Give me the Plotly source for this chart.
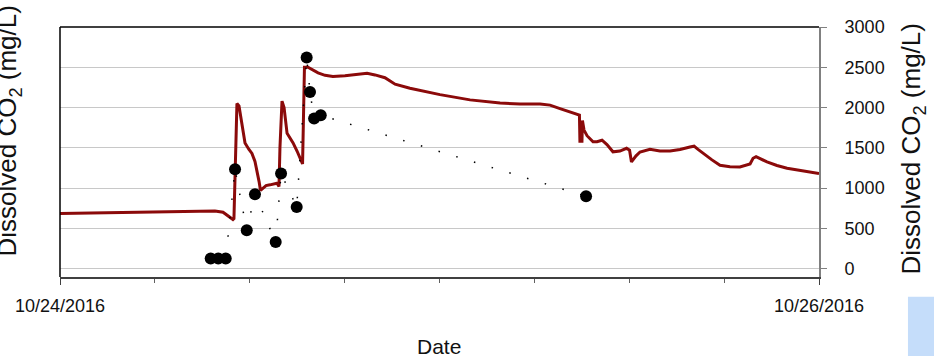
import pandas as pd
import plotly.graph_objects as go

# Start of the record (x axis origin) and elapsed time in hours
start = pd.Timestamp("2016-10-24 00:00")

# Continuous probe record: elapsed hours and dissolved CO2 (mg/L)
probe_hours = [0.0, 3.79, 7.59, 8.85, 9.80, 10.31, 10.62, 10.94, 11.00, 11.10, 11.19, 11.32,
               11.51, 11.70, 11.95, 12.14, 12.33, 12.46, 12.59, 12.68, 12.84, 13.03, 13.28,
               13.53, 13.72, 13.85, 13.91, 14.04, 14.17, 14.36, 14.55, 14.74, 14.99, 15.18,
               15.34, 15.40, 15.46, 15.68, 16.00, 16.32, 16.76, 17.26, 18.02, 18.97, 19.42,
               19.92, 20.55, 21.19, 22.13, 24.03, 25.93, 27.83, 29.09, 30.36, 30.99, 31.62,
               32.25, 32.85, 32.88, 33.01, 33.04, 33.14, 33.33, 33.71, 33.96, 34.28, 34.59,
               34.97, 35.41, 35.83, 36.02, 36.14, 36.43, 36.68, 37.31, 37.63, 37.94, 38.58,
               39.21, 39.84, 40.10, 40.35, 40.66, 41.23, 41.74, 42.37, 43.00, 43.64, 43.83,
               44.02, 44.71, 45.34, 45.98, 46.80, 48.00]
probe_co2 = [683, 695, 703, 715, 715, 700, 660, 610, 620, 1500, 2050, 2020,
             1800, 1560, 1480, 1430, 1330, 1220, 1080, 970, 1000, 1030, 1040,
             1050, 1060, 1020, 1500, 2080, 2000, 1680, 1620, 1560, 1460, 1380,
             1300, 1900, 2500, 2500, 2470, 2430, 2400, 2385, 2395, 2410, 2425,
             2405, 2370, 2290, 2240, 2160, 2095, 2055, 2045, 2045, 2030, 1987,
             1945, 1905, 1580, 1580, 1840, 1720, 1650, 1575, 1575, 1594, 1540,
             1450, 1460, 1494, 1470, 1324, 1400, 1448, 1482, 1470, 1461, 1461,
             1480, 1510, 1520, 1480, 1432, 1350, 1283, 1265, 1262, 1300, 1370,
             1390, 1324, 1280, 1246, 1220, 1180]

# Discrete samples: elapsed hours and dissolved CO2 (mg/L)
sample_hours = [9.53, 10.01, 10.48, 11.07, 11.81, 12.33, 13.64, 13.98, 14.97,
                15.60, 15.81, 16.07, 16.49, 33.27]
sample_co2 = [124, 124, 124, 1233, 476, 923, 331, 1180, 765,
              2620, 2193, 1863, 1904, 898]

# Axis labels
x_tick_labels = ["10/24/2016", "10/26/2016"]
y_tick_values = [0, 500, 1000, 1500, 2000, 2500, 3000]

FONT = "Liberation Sans, Arial, sans-serif"

probe_time = start + pd.to_timedelta(probe_hours, unit="h")
sample_time = start + pd.to_timedelta(sample_hours, unit="h")
end = start + pd.Timedelta(hours=48)

fig = go.Figure()
fig.add_trace(go.Scatter(
    x=probe_time, y=probe_co2, mode="lines",
    line=dict(color="#8B0A0A", width=3),
    name="Probe",
))
fig.add_trace(go.Scatter(
    x=sample_time, y=sample_co2, mode="lines+markers",
    line=dict(color="black", width=1.5, dash="1.5px,17px"),
    marker=dict(color="black", size=12),
    name="Samples",
))

fig.update_layout(
    width=934, height=356,
    margin=dict(l=60, r=115, t=27, b=79),
    paper_bgcolor="white", plot_bgcolor="white",
    showlegend=False,
    font=dict(family=FONT, color="#111111"),
    xaxis=dict(
        type="date",
        range=[start, end],
        tickmode="array",
        tickvals=[start, end],
        ticktext=x_tick_labels,
        ticks="outside", ticklen=6, tickcolor="#404040", tickwidth=1,
        tickfont=dict(size=18, family=FONT, color="#111111"),
        ticklabelstandoff=5,
        showgrid=False, zeroline=False,
        showline=True, linecolor="#404040", linewidth=2,
        minor=dict(dtick=6 * 3600 * 1000, ticks="outside", ticklen=4,
                   tickcolor="#606060", showgrid=False),
    ),
    yaxis=dict(
        side="right",
        range=[-104.4, 3000],
        tickmode="array",
        tickvals=y_tick_values,
        ticks="outside", ticklen=6, tickcolor="#808080",
        tickfont=dict(size=18, family=FONT, color="#111111"),
        ticklabelstandoff=14,
        showgrid=True, gridcolor="#c8c8c8", gridwidth=1,
        zeroline=False,
        showline=True, linecolor="#808080", linewidth=2,
    ),
)

# Left and top frame lines
fig.add_shape(type="line", xref="paper", yref="paper", x0=0, x1=0, y0=0, y1=1,
              line=dict(color="black", width=1.5))
fig.add_shape(type="line", xref="paper", yref="paper", x0=0, x1=1, y0=1, y1=1,
              line=dict(color="black", width=1.5))

# Pale blue box at the lower right corner
fig.add_shape(type="rect", xref="paper", yref="paper",
              x0=1.1172, x1=1.16, y0=-0.32, y1=-0.079,
              fillcolor="#c5ddfa", line=dict(width=0))

# Axis titles
title_text = "Dissolved CO<sub>2</sub> (mg/L)"
fig.add_annotation(text=title_text, xref="paper", yref="paper",
                   x=-0.0672, y=0.586, textangle=-90, showarrow=False,
                   xanchor="center", yanchor="middle",
                   font=dict(size=26, family=FONT, color="#111111"))
fig.add_annotation(text=title_text, xref="paper", yref="paper",
                   x=1.1238, y=0.514, textangle=-90, showarrow=False,
                   xanchor="center", yanchor="middle",
                   font=dict(size=26, family=FONT, color="#111111"))
fig.add_annotation(text="Date", xref="paper", yref="paper",
                   x=0.4993, y=-0.279, showarrow=False,
                   xanchor="center", yanchor="middle",
                   font=dict(size=21, family=FONT, color="#111111"))

fig.write_html("out.html")
